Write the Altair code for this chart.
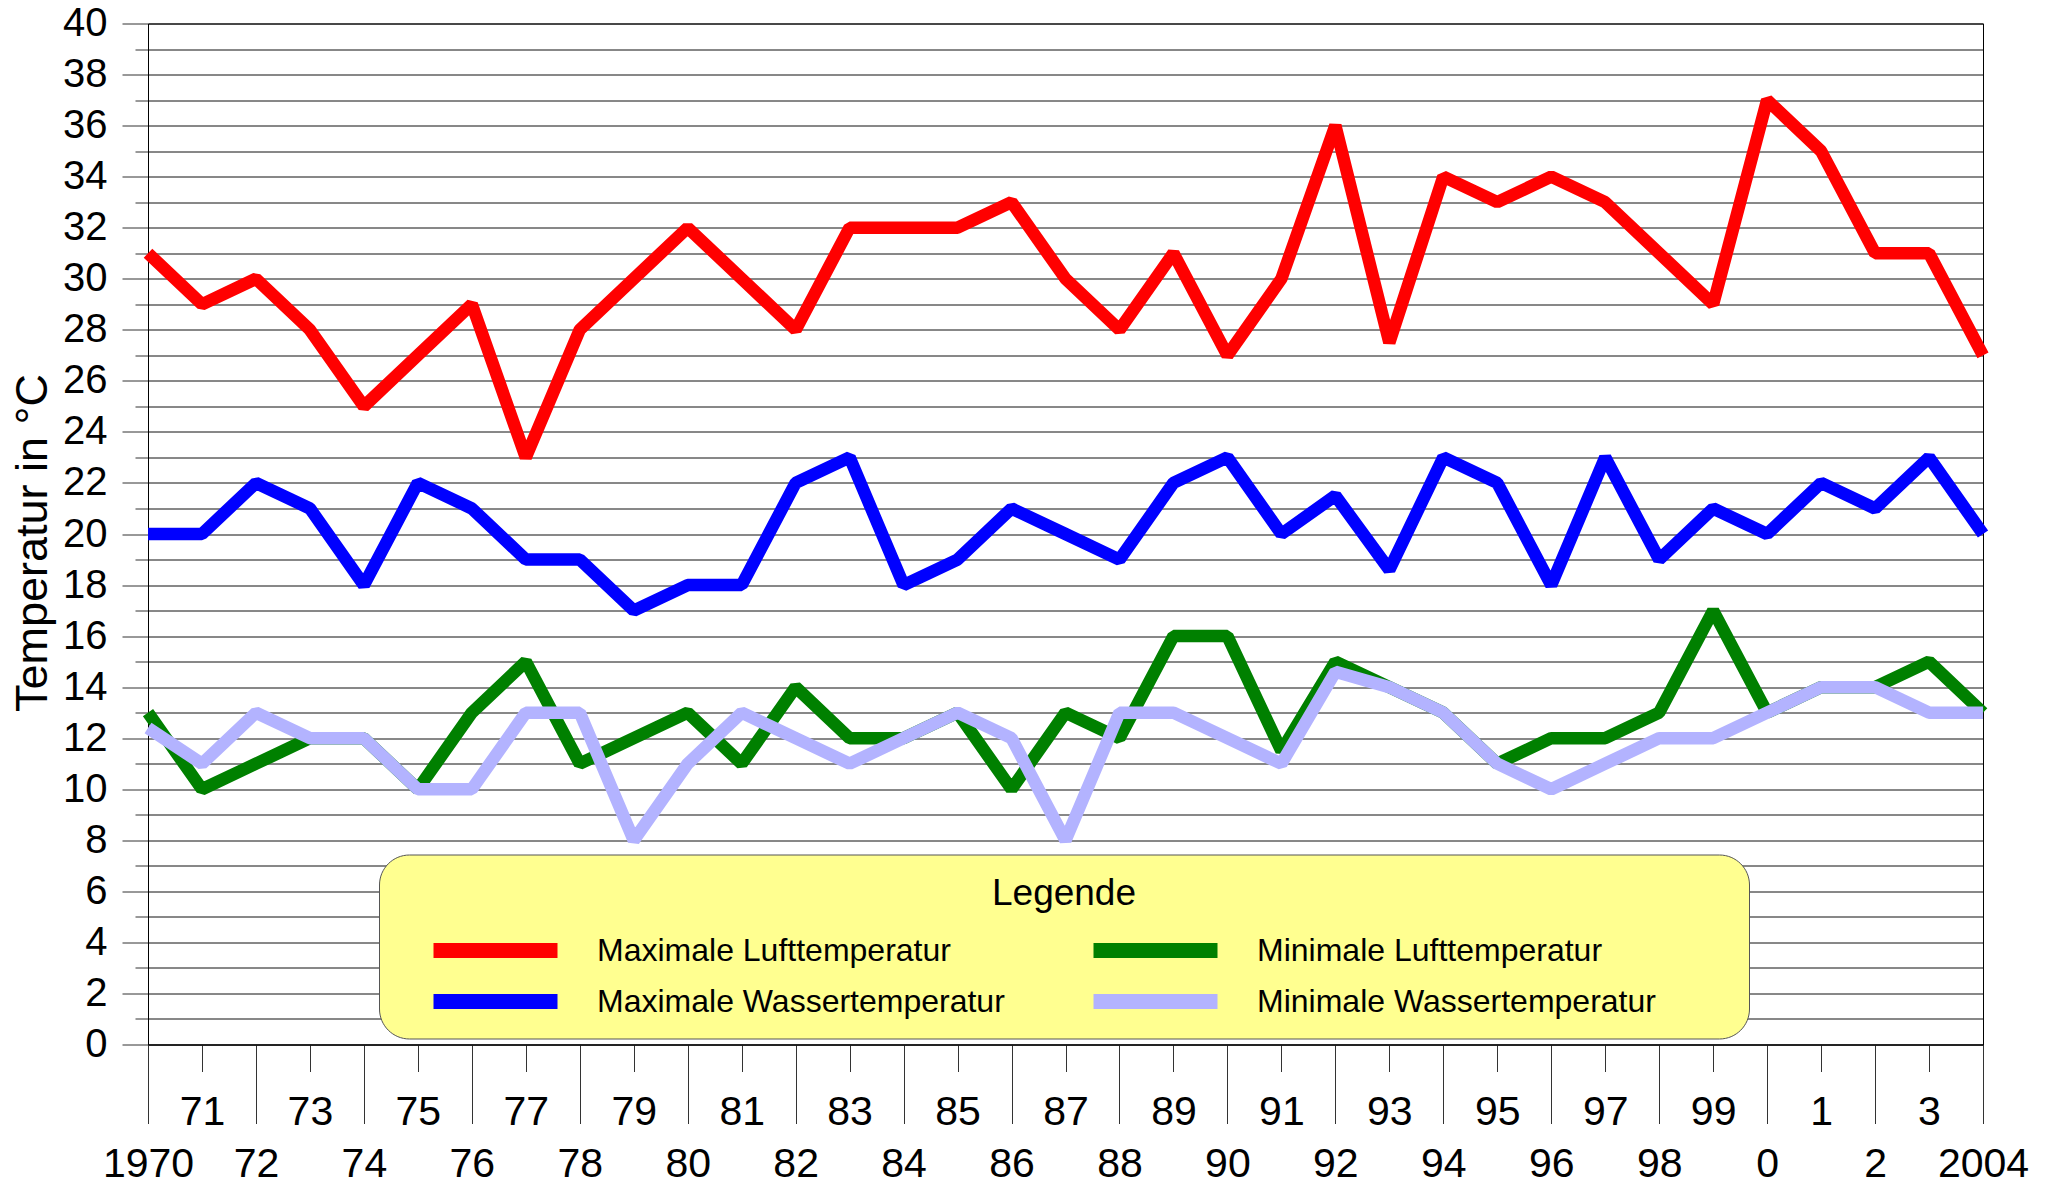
import altair as alt
import pandas as pd

# ---- data ----
years = list(range(1970, 2005))

max_luft = [31, 29, 30, 28, 25, 27, 29, 23, 28, 30,
            32, 30, 28, 32, 32, 32, 33, 30, 28, 31,
            27, 30, 36, 27.5, 34, 33, 34, 33, 31, 29,
            37, 35, 31, 31, 27]

max_wasser = [20, 20, 22, 21, 18, 22, 21, 19, 19, 17,
              18, 18, 22, 23, 18, 19, 21, 20, 19, 22,
              23, 20, 21.5, 18.6, 23, 22, 18, 23, 19, 21,
              20, 22, 21, 23, 20]

min_luft = [13, 10, 11, 12, 12, 10, 13, 15, 11, 12,
            13, 11, 14, 12, 12, 13, 10, 13, 12, 16,
            16, 11.5, 15, 14, 13, 11, 12, 12, 13, 17,
            13, 14, 14, 15, 13]

min_wasser = [12.4, 11, 13, 12, 12, 10, 10, 13, 13, 8,
              11, 13, 12, 11, 12, 13, 12, 8, 13, 13,
              12, 11, 14.6, 14, 13, 11, 10, 11, 12, 12,
              13, 14, 14, 13, 13]

# legend order (filled column by column): left column = Maximale, right = Minimale
series_names = ["Maximale Lufttemperatur", "Maximale Wassertemperatur",
                "Minimale Lufttemperatur", "Minimale Wassertemperatur"]
series_colors = ["#ff0000", "#0000ff", "#008000", "#b3b3ff"]
series_values = {
    "Maximale Lufttemperatur": max_luft,
    "Maximale Wassertemperatur": max_wasser,
    "Minimale Lufttemperatur": min_luft,
    "Minimale Wassertemperatur": min_wasser,
}
draw_order = ["Maximale Lufttemperatur", "Maximale Wassertemperatur",
              "Minimale Lufttemperatur", "Minimale Wassertemperatur"]

y_tick_values = list(range(0, 41))

rows = []
for name in draw_order:
    for yr, v in zip(years, series_values[name]):
        rows.append({"Jahr": yr, "Wert": v, "Reihe": name})
df = pd.DataFrame(rows)

W, H = 1835, 1021
FONT = "Liberation Sans"

x_enc = alt.X(
    "Jahr:Q",
    scale=alt.Scale(domain=[1970, 2004], nice=False, zero=False),
    axis=alt.Axis(
        values=years,
        title=None,
        grid=False,
        domainColor="#000000",
        tickColor="#333333",
        tickWidth=1,
        tickSize=alt.condition("datum.value % 2 == 0", alt.value(79), alt.value(27)),
        labelPadding=21,
        labelFontSize=41,
        labelColor="#000000",
        labelOverlap=False,
        labelFlush=False,
        labelBound=False,
        labelExpr="datum.value == 1970 || datum.value == 2004 ? '' + datum.value : "
                  "(datum.value >= 2000 ? '' + (datum.value - 2000) : '' + (datum.value - 1900))",
    ),
)

y_enc = alt.Y(
    "Wert:Q",
    scale=alt.Scale(domain=[0, 40], nice=False, zero=True),
    axis=alt.Axis(
        values=y_tick_values,
        title="Temperatur in °C",
        titleFontSize=45,
        titleFontWeight="normal",
        titleColor="#000000",
        titleX=-116,
        titleY=519,
        titleAngle=270,
        titleAlign="center",
        titleBaseline="middle",
        grid=True,
        gridColor="#111111",
        gridWidth=1,
        domainColor="#000000",
        tickColor="#333333",
        tickWidth=1,
        tickSize=alt.condition("datum.value % 2 == 0", alt.value(26), alt.value(13)),
        labelPadding=15,
        labelFontSize=40,
        labelColor="#000000",
        labelOverlap=False,
        labelFlush=False,
        labelBound=False,
        labelExpr="datum.value % 2 == 0 ? '' + datum.value : ''",
    ),
)

color_enc = alt.Color(
    "Reihe:N",
    scale=alt.Scale(domain=series_names, range=series_colors),
    legend=alt.Legend(
        title="Legende",
        orient="none",
        legendX=231,
        legendY=831,
        columns=2,
        direction="vertical",
        symbolType="stroke",
        symbolStrokeWidth=15,
        symbolSize=15376,
        symbolOffset=26,
        labelOffset=32,
        clipHeight=32,
        labelFontSize=32,
        labelLimit=1000,
        labelColor="#000000",
        # blank room on the right of the second column widens the yellow box
        labelExpr="indexof(datum.label, 'Minimale') == 0 ? "
                  "datum.label + '\u2003\u2003\u2005\u200d' : datum.label",
        titleFontSize=37,
        titleFontWeight="normal",
        titleColor="#000000",
        titleAnchor="middle",
        titlePadding=22,
        columnPadding=55,
        rowPadding=19,
        padding=21,
        fillColor="#ffff90",
        strokeColor="#555555",
        cornerRadius=30,
    ),
)

layers = []
for name in draw_order:
    layers.append(
        alt.Chart(df)
        .transform_filter(alt.datum.Reihe == name)
        .mark_line(strokeWidth=12.5, strokeJoin="bevel", strokeCap="butt")
        .encode(x=x_enc, y=y_enc, color=color_enc)
    )

chart = (
    alt.layer(*layers)
    .properties(
        width=W,
        height=H,
        padding={"left": 140, "top": 15.5, "right": 50, "bottom": 143.5},
        autosize=alt.AutoSizeParams(type="none"),
        background="#ffffff",
    )
    .configure(font=FONT)
    .configure_view(stroke="#000000", strokeWidth=1)
)

chart.save("out.html", embed_options={"renderer": "svg", "actions": False})
